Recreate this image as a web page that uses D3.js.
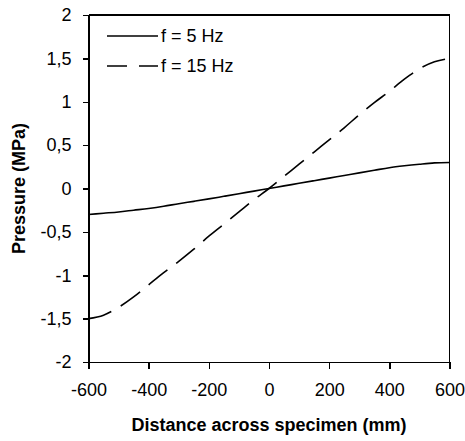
<!DOCTYPE html>
<html>
<head>
<meta charset="utf-8">
<script src="https://cdn.jsdelivr.net/npm/d3@7"></script>
<style>
  body { margin: 0; background: #fff; }
  svg { display: block; }
  text { font-family: "Liberation Sans", Arial, sans-serif; fill: #000; }
  .axis path, .axis line { stroke: #000; stroke-width: 1.5; shape-rendering: crispEdges; }
  .axis text { font-size: 18px; }
  .title { font-size: 18px; font-weight: bold; }
</style>
</head>
<body>
<div id="chart"></div>
<script>
// distance across specimen (mm)
const distance = [-600, -550, -500, -450, -400, -350, -300, -250, -200, -150, -100, -50, 0,
  50, 100, 150, 200, 250, 300, 350, 400, 450, 500, 550, 600];
// pressure (MPa), f = 5 Hz
const p5 = [-0.30, -0.285, -0.27, -0.25, -0.23, -0.205, -0.175, -0.148, -0.12, -0.09, -0.06, -0.03, 0,
  0.03, 0.06, 0.09, 0.12, 0.15, 0.18, 0.21, 0.24, 0.262, 0.28, 0.295, 0.30];
// pressure (MPa), f = 15 Hz
const p15 = [-1.50, -1.46, -1.37, -1.25, -1.11, -0.97, -0.84, -0.70, -0.55, -0.41, -0.27, -0.13, 0,
  0.14, 0.28, 0.42, 0.56, 0.70, 0.85, 0.99, 1.12, 1.26, 1.38, 1.46, 1.50];

const xTicks = [-600, -400, -200, 0, 200, 400, 600];
const yTicks = [-2, -1.5, -1, -0.5, 0, 0.5, 1, 1.5, 2];

const series = [
  { name: "f = 5 Hz", values: p5, dash: null, legendDash: null },
  { name: "f = 15 Hz", values: p15, dash: "24,11", legendDash: "20,12" },
];

const width = 465, height = 441;
const margin = { top: 15, right: 15.5, bottom: 79, left: 88.5 };
const w = width - margin.left - margin.right,
  h = height - margin.top - margin.bottom;

const locale = d3.formatLocale({ decimal: ",", thousands: ".", grouping: [3], currency: ["", ""], minus: "-" });
const fmt = locale.format("~g");

const x = d3.scaleLinear().domain([-600, 600]).range([0, w]);
const y = d3.scaleLinear().domain([-2, 2]).range([h, 0]);

const svg = d3.select("#chart")
  .append("svg")
  .attr("width", width)
  .attr("height", height);

const g = svg.append("g")
  .attr("transform", `translate(${margin.left}, ${margin.top})`);

// frame (top and right sides)
g.append("path")
  .attr("d", `M0,0H${w}V${h}`)
  .attr("fill", "none")
  .attr("stroke", "#000")
  .attr("stroke-width", 1.5)
  .attr("shape-rendering", "crispEdges");

g.append("g")
  .attr("class", "axis")
  .attr("transform", `translate(0, ${h})`)
  .call(d3.axisBottom(x).tickValues(xTicks).tickFormat(fmt).tickSizeInner(7).tickSizeOuter(0).tickPadding(14));

g.append("g")
  .attr("class", "axis")
  .call(d3.axisLeft(y).tickValues(yTicks).tickFormat(fmt).tickSizeInner(6).tickSizeOuter(0).tickPadding(11));

const line = d3.line()
  .x((d) => x(d[0]))
  .y((d) => y(d[1]))
  .curve(d3.curveMonotoneX);

g.selectAll(".series")
  .data(series)
  .join("path")
  .attr("class", "series")
  .attr("fill", "none")
  .attr("stroke", "#000")
  .attr("stroke-width", 1.6)
  .attr("stroke-dasharray", (d) => d.dash)
  .attr("d", (d) => line(distance.map((v, i) => [v, d.values[i]])));

// legend
const legend = svg.append("g")
  .selectAll("g")
  .data(series)
  .join("g")
  .attr("transform", (d, i) => `translate(107, ${36 + i * 30})`);

legend.append("line")
  .attr("x1", 0)
  .attr("x2", 51)
  .attr("stroke", "#000")
  .attr("stroke-width", 1.6)
  .attr("stroke-dasharray", (d) => d.legendDash);

legend.append("text")
  .attr("x", 54)
  .attr("dy", "0.35em")
  .style("font-size", "18px")
  .text((d) => d.name);

// axis titles
svg.append("text")
  .attr("class", "title")
  .attr("text-anchor", "middle")
  .attr("x", margin.left + w / 2)
  .attr("y", 431)
  .text("Distance across specimen (mm)");

svg.append("text")
  .attr("class", "title")
  .attr("text-anchor", "middle")
  .attr("transform", `translate(25, ${margin.top + h / 2}) rotate(-90)`)
  .text("Pressure (MPa)");
</script>
</body>
</html>
